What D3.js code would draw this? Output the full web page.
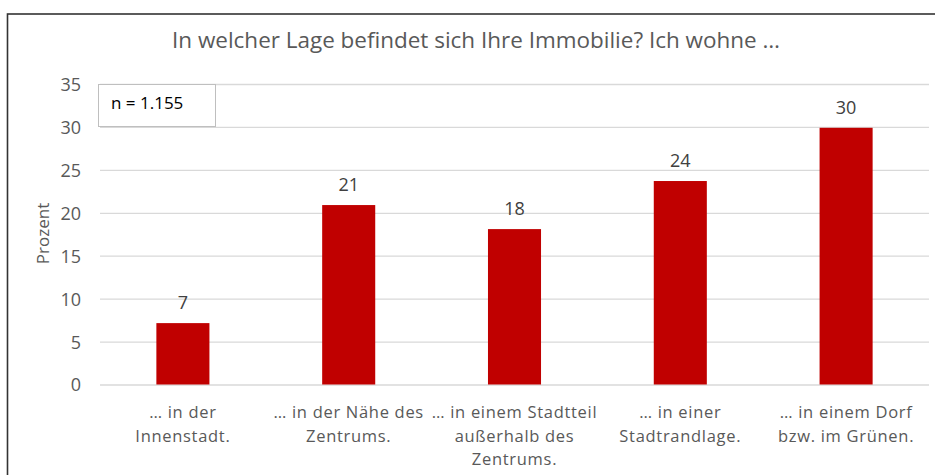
<!DOCTYPE html>
<html><head><meta charset="utf-8">
<script src="https://cdn.jsdelivr.net/npm/d3@7"></script>
<style>
body{margin:0;background:#fff;}
svg{display:block;}
text{font-family:"Open Sans",Lato,sans-serif;}
</style></head><body>
<svg id="c" width="935" height="475"></svg>
<script>
const categories = [
  ["… in der", "Innenstadt."],
  ["… in der Nähe des", "Zentrums."],
  ["… in einem Stadtteil", "außerhalb des", "Zentrums."],
  ["… in einer", "Stadtrandlage."],
  ["… in einem Dorf", "bzw. im Grünen."]
];
const values = [7.15, 20.9, 18.1, 23.7, 29.9];
const valueLabels = ["7", "21", "18", "24", "30"];
const yTicks = [0, 5, 10, 15, 20, 25, 30, 35];
const title = "In welcher Lage befindet sich Ihre Immobilie? Ich wohne …";
const yTitle = "Prozent";
const note = "n = 1.155";

const svg = d3.select("#c");
const m = {left:100, right:929, top:84, bottom:384.5};

// outer border
svg.append("rect").attr("x",7.5).attr("y",14).attr("width",940).attr("height",480)
  .attr("fill","none").attr("stroke","#333").attr("stroke-width",1.6);

const x = d3.scaleBand().domain(d3.range(categories.length)).range([m.left,m.right]).paddingInner(0.68).paddingOuter(0.34);
const y = d3.scaleLinear().domain([0,35]).range([m.bottom,m.top]);

// gridlines
const yAxis = d3.axisLeft(y).tickValues(yTicks).tickSize(-(m.right-m.left)).tickPadding(19);
const gy = svg.append("g").attr("transform",`translate(${m.left},0)`).call(yAxis);
gy.select(".domain").remove();
gy.selectAll(".tick line").attr("stroke","#d9d9d9").attr("stroke-width",1.3);
gy.selectAll(".tick text").attr("fill","#595959").style("font-size","18px").attr("dy","0.36em");

// bars
svg.append("g").selectAll("rect").data(values).join("rect")
  .attr("x",(d,i)=>x(i)).attr("width",x.bandwidth())
  .attr("y",d=>y(d)).attr("height",d=>y(0)-y(d))
  .attr("fill","#c00000");

// value labels
svg.append("g").selectAll("text").data(values).join("text")
  .attr("x",(d,i)=>x(i)+x.bandwidth()/2).attr("y",d=>y(d)-14)
  .attr("text-anchor","middle").attr("fill","#404040").style("font-size","18px")
  .text((d,i)=>valueLabels[i]);

// category labels
const cg = svg.append("g");
categories.forEach((lines,i)=>{
  const t = cg.append("text").attr("text-anchor","middle").attr("fill","#595959")
    .style("font-size","16.5px").style("letter-spacing","0.7px")
    .attr("transform",`translate(${x(i)+x.bandwidth()/2},0)`);
  lines.forEach((l,j)=>t.append("tspan").attr("x",0).attr("y",418+j*23.6).text(l));
});

// title
svg.append("text").attr("x",476).attr("y",48).attr("text-anchor","middle")
  .attr("textLength",608).attr("lengthAdjust","spacingAndGlyphs")
  .attr("fill","#595959").style("font-size","21.5px").text(title);

// y title
svg.append("text").attr("transform","translate(49,233.5) rotate(-90)").attr("text-anchor","middle")
  .attr("fill","#595959").style("font-size","17px").text(yTitle);

// note box
svg.append("rect").attr("x",98.5).attr("y",84.5).attr("width",117).attr("height",42)
  .attr("fill","#fff").attr("stroke","#bfbfbf").attr("stroke-width",1);
svg.append("text").attr("x",111).attr("y",109).attr("fill","#000").style("font-size","17px").text(note);
</script></body></html>
